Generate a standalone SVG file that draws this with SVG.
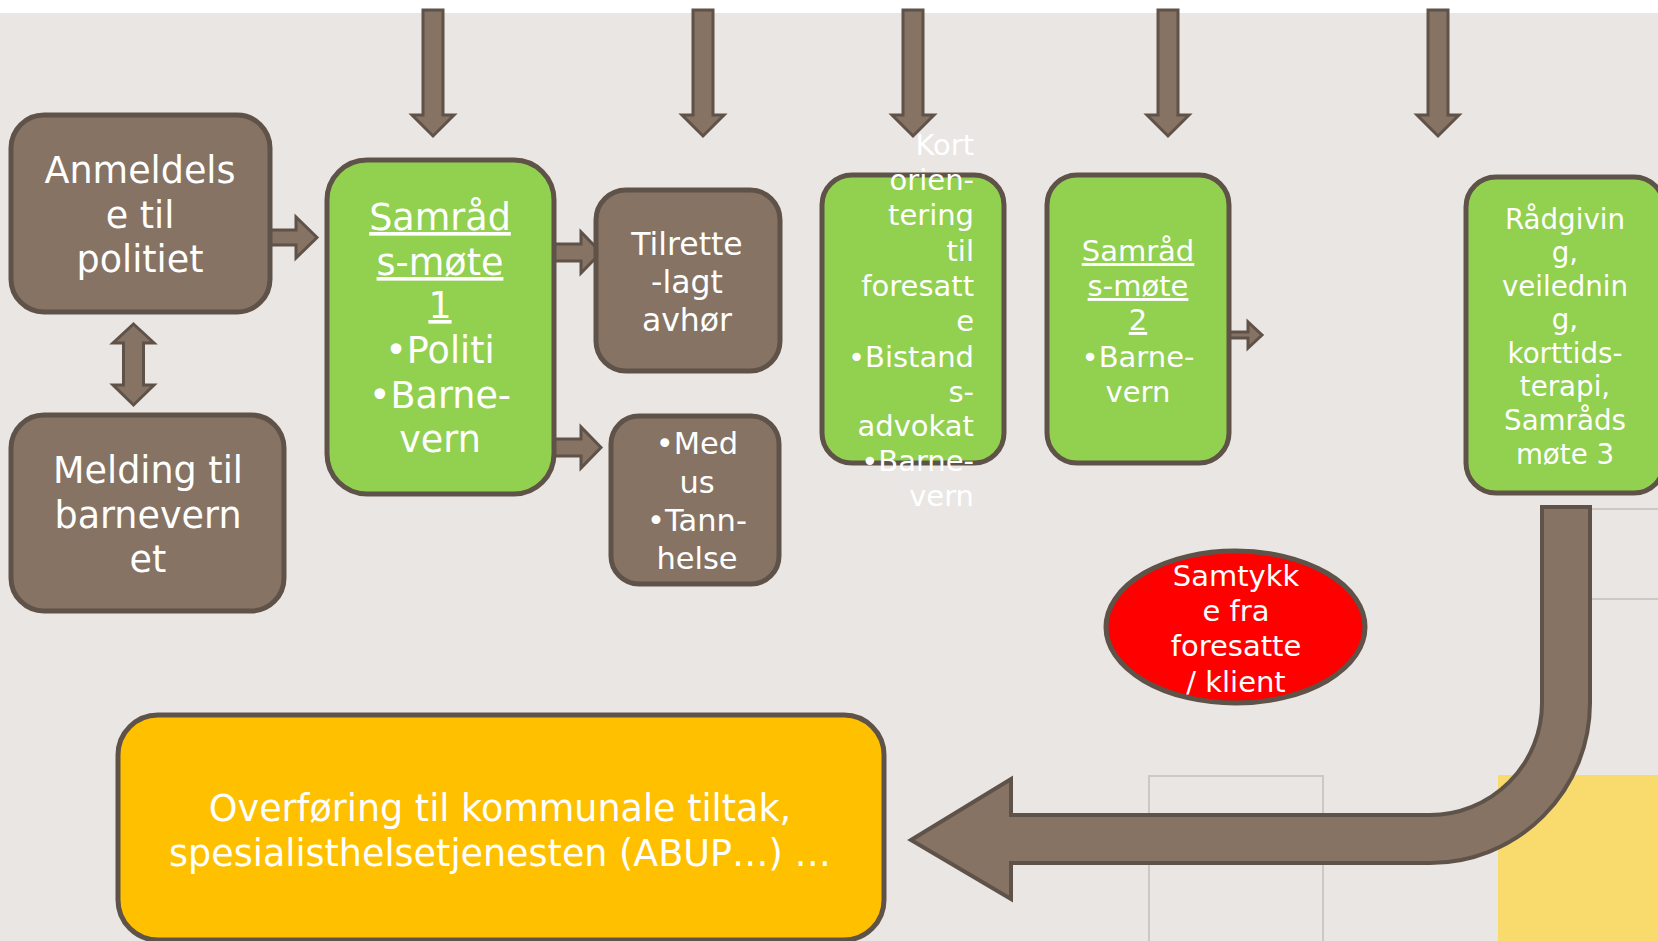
<svg xmlns="http://www.w3.org/2000/svg" width="1658" height="941" viewBox="0 0 1658 941">
<defs>
<style>
.bg{fill:#EAE6E3}
.brown{fill:#867364;stroke:#5F5248;stroke-width:5}
.green{fill:#92D050;stroke:#5F5248;stroke-width:5}
.orange{fill:#FFC000;stroke:#5F5248;stroke-width:5}
.red{fill:#FF0000;stroke:#5F5248;stroke-width:5}
.arr{fill:#867364;stroke:#5F5248;stroke-width:3;stroke-linejoin:miter}
.big{fill:#867364;stroke:#5F5248;stroke-width:4}
.faint{fill:none;stroke:#CDC8C3;stroke-width:2}
text{font-family:"DejaVu Sans",Verdana,sans-serif;fill:#FFFFFF;text-anchor:middle}
.t365{font-size:36.5px}
.t315{font-size:31.5px}
.t30{font-size:30.5px}
.t29{font-size:29px}
.t277{font-size:27.7px}
.u{text-decoration:underline}
</style>
</defs>
<rect x="0" y="0" width="1658" height="941" fill="#FFFFFF"/>
<rect class="bg" x="0" y="13" width="1658" height="928"/>
<g id="backdrop">
<line class="faint" x1="1590" y1="509" x2="1658" y2="509"/>
<line class="faint" x1="1590" y1="599" x2="1658" y2="599"/>
<rect class="faint" x="1149" y="776" width="174" height="180"/>
<rect x="1498" y="775" width="160" height="166" fill="#F9DB6D"/>
</g>
<g id="connectors">
<path class="arr" d="M423,10 H443 V115 H454 L433,136 L412,115 H423 Z"/>
<path class="arr" d="M693,10 H713 V115 H724 L703,136 L682,115 H693 Z"/>
<path class="arr" d="M903,10 H923 V115 H934 L913,136 L892,115 H903 Z"/>
<path class="arr" d="M1158,10 H1178 V115 H1189 L1168,136 L1147,115 H1158 Z"/>
<path class="arr" d="M1428,10 H1448 V115 H1459 L1438,136 L1417,115 H1428 Z"/>
<path class="arr" d="M270,230 H296 V217 L317,237.5 L296,258 V245 H270 Z"/>
<path class="arr" d="M133.5,324 L154,343 H143.5 V385 H154 L133.5,405 L113,385 H123.5 V343 H113 Z"/>
<path class="arr" d="M554,244 H581 V232 L601,252.5 L581,273 V261 H554 Z"/>
<path class="arr" d="M554,439 H581 V427 L601,447.5 L581,468 V456 H554 Z"/>
<path class="arr" d="M1229,332 H1248 V322 L1262,335 L1248,348 V338 H1229 Z"/>
</g>
<g id="anmeldelse">
<rect class="brown" x="11" y="115" width="259" height="197" rx="33"/>
<text class="t365"><tspan x="140" y="183">Anmeldels</tspan><tspan x="140" y="228">e til</tspan><tspan x="140" y="272">politiet</tspan></text>
</g>
<g id="melding">
<rect class="brown" x="11" y="415" width="273" height="196" rx="33"/>
<text class="t365"><tspan x="148" y="483">Melding til</tspan><tspan x="148" y="528">barnevern</tspan><tspan x="148" y="572">et</tspan></text>
</g>
<g id="samrad1">
<rect class="green" x="327" y="160" width="227" height="334" rx="40"/>
<text class="t365"><tspan class="u" x="440" y="230">Samråd</tspan><tspan class="u" x="440" y="275">s-møte</tspan><tspan class="u" x="440" y="318">1</tspan><tspan x="440" y="363">•Politi</tspan><tspan x="440" y="408">•Barne-</tspan><tspan x="440" y="452">vern</tspan></text>
</g>
<g id="tilrettelagt">
<rect class="brown" x="596" y="190" width="184" height="181" rx="30"/>
<text class="t315"><tspan x="687" y="254.5">Tilrette</tspan><tspan x="687" y="293">-lagt</tspan><tspan x="687" y="331">avhør</tspan></text>
</g>
<g id="medus">
<rect class="brown" x="611" y="416" width="168" height="168" rx="28"/>
<text class="t30"><tspan x="697" y="453.5">•Med</tspan><tspan x="697" y="492.5">us</tspan><tspan x="697" y="531">•Tann-</tspan><tspan x="697" y="569">helse</tspan></text>
</g>
<g id="kort">
<rect class="green" x="822" y="175" width="182" height="288" rx="30"/>
<text class="t29" style="text-anchor:end"><tspan x="974" y="154.5">Kort</tspan><tspan x="974" y="189.5">orien-</tspan><tspan x="974" y="225">tering</tspan><tspan x="974" y="260.5">til</tspan><tspan x="974" y="295.5">foresatt</tspan><tspan x="974" y="330.5">e</tspan><tspan x="974" y="366.5">•Bistand</tspan><tspan x="974" y="401.5">s-</tspan><tspan x="974" y="436">advokat</tspan><tspan x="974" y="471">•Barne-</tspan><tspan x="974" y="506">vern</tspan></text>
</g>
<g id="samrad2">
<rect class="green" x="1047" y="175" width="182" height="288" rx="30"/>
<text class="t29"><tspan class="u" x="1138" y="261">Samråd</tspan><tspan class="u" x="1138" y="296">s-møte</tspan><tspan class="u" x="1138" y="330">2</tspan><tspan x="1138" y="366.5">•Barne-</tspan><tspan x="1138" y="401.5">vern</tspan></text>
</g>
<g id="radgivning">
<rect class="green" x="1466" y="177" width="198" height="316" rx="30"/>
<text class="t277"><tspan x="1565" y="229">Rådgivin</tspan><tspan x="1565" y="262">g,</tspan><tspan x="1565" y="296">veilednin</tspan><tspan x="1565" y="329">g,</tspan><tspan x="1565" y="363">korttids-</tspan><tspan x="1565" y="396">terapi,</tspan><tspan x="1565" y="430">Samråds</tspan><tspan x="1565" y="464">møte 3</tspan></text>
</g>
<g id="big-arrow">
<path class="big" d="M1542,507 H1590 V703 A160,160 0 0 1 1430,863 H1011 V899 L911,840 L1011,779 V815 H1430 A112,112 0 0 0 1542,703 Z"/>
</g>
<g id="samtykke">
<ellipse class="red" cx="1235.5" cy="627" rx="129.5" ry="76"/>
<text class="t29"><tspan x="1236" y="586">Samtykk</tspan><tspan x="1236" y="621">e fra</tspan><tspan x="1236" y="656">foresatte</tspan><tspan x="1236" y="692">/ klient</tspan></text>
</g>
<g id="overforing">
<rect class="orange" x="118" y="715" width="766" height="225" rx="40"/>
<text class="t365"><tspan x="500" y="821">Overføring til kommunale tiltak,</tspan><tspan x="500" y="866">spesialisthelsetjenesten (ABUP…) …</tspan></text>
</g>
</svg>
